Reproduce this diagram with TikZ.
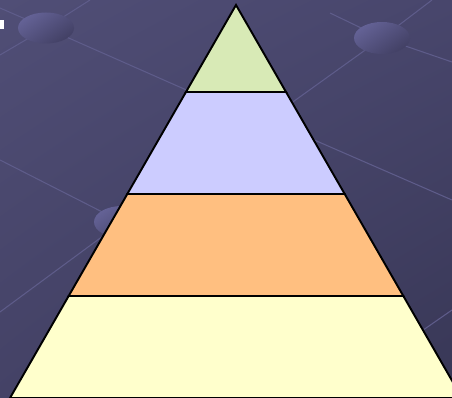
\documentclass[tikz,border=0pt]{standalone}
\usepackage{tikz}
\usetikzlibrary{calc,shadings}

\definecolor{bgul}{RGB}{80,78,118}
\definecolor{bgur}{RGB}{72,70,108}
\definecolor{bgll}{RGB}{68,66,102}
\definecolor{bglr}{RGB}{56,55,86}
\definecolor{diskhi}{RGB}{100,98,150}
\definecolor{disklo}{RGB}{66,64,100}
\definecolor{gridline}{RGB}{94,92,138}
\definecolor{tiergreen}{RGB}{216,234,182}
\definecolor{tierblue}{RGB}{204,204,255}
\definecolor{tierorange}{RGB}{255,191,128}
\definecolor{tieryellow}{RGB}{255,255,204}

\begin{document}
\begin{tikzpicture}[x=0.02cm,y=-0.02cm,
    band/.style={draw=black,line width=1.1pt,line join=miter},
    faint/.style={gridline,line width=0.6pt},
    disk/.style={top color=diskhi,bottom color=disklo,shading angle=35}]
    \useasboundingbox (0,0) rectangle (452,398);
    \clip (0,0) rectangle (452,398);
    % background
    \shade[upper left=bgul,upper right=bgur,lower left=bgll,lower right=bglr] (0,0) rectangle (452,398);
    \draw[faint] (0,8) -- (46,28) -- (90,0);
    \draw[faint] (0,55) -- (46,28) -- (200,96);
    \draw[faint] (330,13) -- (382,38) -- (432,0);
    \draw[faint] (452,62) -- (382,38) -- (290,104);
    \draw[faint] (0,160) -- (122,222) -- (0,312);
    \draw[faint] (250,112) -- (452,200);
    \draw[faint] (380,360) -- (452,310);
    \shade[disk] (46,28) ellipse (28 and 15.5);
    \shade[disk] (382,38) ellipse (28 and 16);
    \shade[disk] (122,222) ellipse (28 and 16);
    \fill[white] (0,20) rectangle (4,29);
    % pyramid
    \coordinate (apex) at (236,5);
    \coordinate (bl) at (10,398);
    \coordinate (br) at (462,398);
    \coordinate (l1) at ($(apex)!0.2214!(bl)$);
    \coordinate (r1) at ($(apex)!0.2214!(br)$);
    \coordinate (l2) at ($(apex)!0.4809!(bl)$);
    \coordinate (r2) at ($(apex)!0.4809!(br)$);
    \coordinate (l3) at ($(apex)!0.7405!(bl)$);
    \coordinate (r3) at ($(apex)!0.7405!(br)$);
    \draw[band,fill=tieryellow] (l3) -- (r3) -- (br) -- (bl) -- cycle;
    \draw[band,fill=tierorange] (l2) -- (r2) -- (r3) -- (l3) -- cycle;
    \draw[band,fill=tierblue] (l1) -- (r1) -- (r2) -- (l2) -- cycle;
    \draw[band,fill=tiergreen] (apex) -- (r1) -- (l1) -- cycle;
\end{tikzpicture}
\end{document}
